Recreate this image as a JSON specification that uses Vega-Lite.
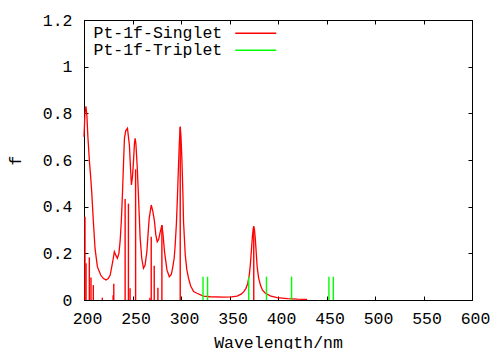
{
  "$schema": "https://vega.github.io/schema/vega-lite/v6.json",
  "width": 388,
  "height": 280,
  "autosize": {"type": "none"},
  "padding": {"left": 84, "top": 20, "right": 20, "bottom": 49},
  "background": "white",
  "config": {
    "view": {"stroke": "black", "strokeWidth": 1},
    "axis": {
      "grid": false,
      "domainColor": "black",
      "domainWidth": 1,
      "tickColor": "black",
      "tickWidth": 1,
      "tickSize": -4,
      "labelFont": "Liberation Mono",
      "labelFontSize": 16.5,
      "labelColor": "black",
      "titleFont": "Liberation Mono",
      "titleFontSize": 16.5,
      "titleFontWeight": "normal",
      "titleColor": "black",
      "labelFlush": false,
      "labelOverlap": false
    },
    "legend": {
      "orient": "none",
      "legendX": 9,
      "legendY": 5,
      "padding": 0,
      "symbolType": "M-2.93,0H2.93",
      "symbolSize": 196,
      "symbolStrokeWidth": 1.5,
      "labelFont": "Liberation Mono",
      "labelFontSize": 16.5,
      "labelColor": "black",
      "rowPadding": 0,
      "labelOffset": -170.5,
      "symbolOffset": 154.5
    }
  },
  "datasets": {
    "curve": [
      {"wl": 200, "f": 0.70, "series": "Pt-1f-Singlet"},
      {"wl": 201, "f": 0.80, "series": "Pt-1f-Singlet"},
      {"wl": 202, "f": 0.83, "series": "Pt-1f-Singlet"},
      {"wl": 203, "f": 0.79, "series": "Pt-1f-Singlet"},
      {"wl": 204, "f": 0.70, "series": "Pt-1f-Singlet"},
      {"wl": 205.5, "f": 0.60, "series": "Pt-1f-Singlet"},
      {"wl": 207, "f": 0.52, "series": "Pt-1f-Singlet"},
      {"wl": 208, "f": 0.46, "series": "Pt-1f-Singlet"},
      {"wl": 209.6, "f": 0.34, "series": "Pt-1f-Singlet"},
      {"wl": 211.4, "f": 0.22, "series": "Pt-1f-Singlet"},
      {"wl": 213.8, "f": 0.143, "series": "Pt-1f-Singlet"},
      {"wl": 217.2, "f": 0.107, "series": "Pt-1f-Singlet"},
      {"wl": 220, "f": 0.092, "series": "Pt-1f-Singlet"},
      {"wl": 222.7, "f": 0.086, "series": "Pt-1f-Singlet"},
      {"wl": 225, "f": 0.092, "series": "Pt-1f-Singlet"},
      {"wl": 227, "f": 0.107, "series": "Pt-1f-Singlet"},
      {"wl": 229.6, "f": 0.164, "series": "Pt-1f-Singlet"},
      {"wl": 231.3, "f": 0.207, "series": "Pt-1f-Singlet"},
      {"wl": 233, "f": 0.19, "series": "Pt-1f-Singlet"},
      {"wl": 234.4, "f": 0.179, "series": "Pt-1f-Singlet"},
      {"wl": 236, "f": 0.20, "series": "Pt-1f-Singlet"},
      {"wl": 237.2, "f": 0.25, "series": "Pt-1f-Singlet"},
      {"wl": 238.5, "f": 0.34, "series": "Pt-1f-Singlet"},
      {"wl": 239.6, "f": 0.45, "series": "Pt-1f-Singlet"},
      {"wl": 240.7, "f": 0.58, "series": "Pt-1f-Singlet"},
      {"wl": 241.7, "f": 0.693, "series": "Pt-1f-Singlet"},
      {"wl": 243, "f": 0.725, "series": "Pt-1f-Singlet"},
      {"wl": 244.8, "f": 0.736, "series": "Pt-1f-Singlet"},
      {"wl": 246.8, "f": 0.664, "series": "Pt-1f-Singlet"},
      {"wl": 248, "f": 0.56, "series": "Pt-1f-Singlet"},
      {"wl": 248.9, "f": 0.493, "series": "Pt-1f-Singlet"},
      {"wl": 250, "f": 0.53, "series": "Pt-1f-Singlet"},
      {"wl": 251, "f": 0.593, "series": "Pt-1f-Singlet"},
      {"wl": 252, "f": 0.67, "series": "Pt-1f-Singlet"},
      {"wl": 252.7, "f": 0.693, "series": "Pt-1f-Singlet"},
      {"wl": 253.5, "f": 0.67, "series": "Pt-1f-Singlet"},
      {"wl": 255, "f": 0.56, "series": "Pt-1f-Singlet"},
      {"wl": 256.1, "f": 0.45, "series": "Pt-1f-Singlet"},
      {"wl": 257.9, "f": 0.265, "series": "Pt-1f-Singlet"},
      {"wl": 259.5, "f": 0.18, "series": "Pt-1f-Singlet"},
      {"wl": 261.3, "f": 0.136, "series": "Pt-1f-Singlet"},
      {"wl": 263, "f": 0.15, "series": "Pt-1f-Singlet"},
      {"wl": 264.8, "f": 0.207, "series": "Pt-1f-Singlet"},
      {"wl": 266, "f": 0.28, "series": "Pt-1f-Singlet"},
      {"wl": 267.2, "f": 0.35, "series": "Pt-1f-Singlet"},
      {"wl": 269.3, "f": 0.407, "series": "Pt-1f-Singlet"},
      {"wl": 271, "f": 0.38, "series": "Pt-1f-Singlet"},
      {"wl": 272.7, "f": 0.336, "series": "Pt-1f-Singlet"},
      {"wl": 274, "f": 0.28, "series": "Pt-1f-Singlet"},
      {"wl": 275.5, "f": 0.25, "series": "Pt-1f-Singlet"},
      {"wl": 277, "f": 0.26, "series": "Pt-1f-Singlet"},
      {"wl": 278.5, "f": 0.29, "series": "Pt-1f-Singlet"},
      {"wl": 280.3, "f": 0.321, "series": "Pt-1f-Singlet"},
      {"wl": 281.5, "f": 0.28, "series": "Pt-1f-Singlet"},
      {"wl": 283, "f": 0.207, "series": "Pt-1f-Singlet"},
      {"wl": 285.5, "f": 0.129, "series": "Pt-1f-Singlet"},
      {"wl": 287.9, "f": 0.10, "series": "Pt-1f-Singlet"},
      {"wl": 290, "f": 0.11, "series": "Pt-1f-Singlet"},
      {"wl": 291.3, "f": 0.136, "series": "Pt-1f-Singlet"},
      {"wl": 293, "f": 0.18, "series": "Pt-1f-Singlet"},
      {"wl": 294, "f": 0.236, "series": "Pt-1f-Singlet"},
      {"wl": 295.3, "f": 0.33, "series": "Pt-1f-Singlet"},
      {"wl": 296.4, "f": 0.45, "series": "Pt-1f-Singlet"},
      {"wl": 297.3, "f": 0.56, "series": "Pt-1f-Singlet"},
      {"wl": 298.2, "f": 0.664, "series": "Pt-1f-Singlet"},
      {"wl": 299.2, "f": 0.743, "series": "Pt-1f-Singlet"},
      {"wl": 300, "f": 0.70, "series": "Pt-1f-Singlet"},
      {"wl": 301, "f": 0.593, "series": "Pt-1f-Singlet"},
      {"wl": 302, "f": 0.45, "series": "Pt-1f-Singlet"},
      {"wl": 302.6, "f": 0.336, "series": "Pt-1f-Singlet"},
      {"wl": 304.4, "f": 0.193, "series": "Pt-1f-Singlet"},
      {"wl": 306, "f": 0.13, "series": "Pt-1f-Singlet"},
      {"wl": 307.8, "f": 0.093, "series": "Pt-1f-Singlet"},
      {"wl": 310, "f": 0.06, "series": "Pt-1f-Singlet"},
      {"wl": 313, "f": 0.036, "series": "Pt-1f-Singlet"},
      {"wl": 316.5, "f": 0.029, "series": "Pt-1f-Singlet"},
      {"wl": 323, "f": 0.017, "series": "Pt-1f-Singlet"},
      {"wl": 330, "f": 0.014, "series": "Pt-1f-Singlet"},
      {"wl": 344, "f": 0.012, "series": "Pt-1f-Singlet"},
      {"wl": 352, "f": 0.013, "series": "Pt-1f-Singlet"},
      {"wl": 357.8, "f": 0.017, "series": "Pt-1f-Singlet"},
      {"wl": 362, "f": 0.025, "series": "Pt-1f-Singlet"},
      {"wl": 364.7, "f": 0.036, "series": "Pt-1f-Singlet"},
      {"wl": 367, "f": 0.05, "series": "Pt-1f-Singlet"},
      {"wl": 368.8, "f": 0.071, "series": "Pt-1f-Singlet"},
      {"wl": 370.5, "f": 0.11, "series": "Pt-1f-Singlet"},
      {"wl": 371.6, "f": 0.157, "series": "Pt-1f-Singlet"},
      {"wl": 372.7, "f": 0.22, "series": "Pt-1f-Singlet"},
      {"wl": 373.6, "f": 0.271, "series": "Pt-1f-Singlet"},
      {"wl": 374.4, "f": 0.305, "series": "Pt-1f-Singlet"},
      {"wl": 375, "f": 0.317, "series": "Pt-1f-Singlet"},
      {"wl": 375.8, "f": 0.30, "series": "Pt-1f-Singlet"},
      {"wl": 376.7, "f": 0.257, "series": "Pt-1f-Singlet"},
      {"wl": 377.6, "f": 0.20, "series": "Pt-1f-Singlet"},
      {"wl": 378.5, "f": 0.143, "series": "Pt-1f-Singlet"},
      {"wl": 380, "f": 0.095, "series": "Pt-1f-Singlet"},
      {"wl": 381.9, "f": 0.064, "series": "Pt-1f-Singlet"},
      {"wl": 384, "f": 0.042, "series": "Pt-1f-Singlet"},
      {"wl": 387, "f": 0.029, "series": "Pt-1f-Singlet"},
      {"wl": 392, "f": 0.018, "series": "Pt-1f-Singlet"},
      {"wl": 399, "f": 0.010, "series": "Pt-1f-Singlet"},
      {"wl": 410, "f": 0.006, "series": "Pt-1f-Singlet"},
      {"wl": 420, "f": 0.004, "series": "Pt-1f-Singlet"},
      {"wl": 430, "f": 0.003, "series": "Pt-1f-Singlet"}
    ],
    "sticks": [
      {"wl": 201.0, "f": 0.357, "series": "Pt-1f-Singlet"},
      {"wl": 202.1, "f": 0.157, "series": "Pt-1f-Singlet"},
      {"wl": 205.5, "f": 0.183, "series": "Pt-1f-Singlet"},
      {"wl": 207.2, "f": 0.096, "series": "Pt-1f-Singlet"},
      {"wl": 209.6, "f": 0.064, "series": "Pt-1f-Singlet"},
      {"wl": 218.9, "f": 0.01, "series": "Pt-1f-Singlet"},
      {"wl": 230.0, "f": 0.02, "series": "Pt-1f-Singlet"},
      {"wl": 230.7, "f": 0.07, "series": "Pt-1f-Singlet"},
      {"wl": 242.4, "f": 0.433, "series": "Pt-1f-Singlet"},
      {"wl": 245.8, "f": 0.413, "series": "Pt-1f-Singlet"},
      {"wl": 247.5, "f": 0.05, "series": "Pt-1f-Singlet"},
      {"wl": 253.2, "f": 0.56, "series": "Pt-1f-Singlet"},
      {"wl": 267.9, "f": 0.01, "series": "Pt-1f-Singlet"},
      {"wl": 269.3, "f": 0.271, "series": "Pt-1f-Singlet"},
      {"wl": 272.4, "f": 0.147, "series": "Pt-1f-Singlet"},
      {"wl": 276.2, "f": 0.053, "series": "Pt-1f-Singlet"},
      {"wl": 280.3, "f": 0.32, "series": "Pt-1f-Singlet"},
      {"wl": 299.2, "f": 0.74, "series": "Pt-1f-Singlet"},
      {"wl": 375.0, "f": 0.31, "series": "Pt-1f-Singlet"},
      {"wl": 322.7, "f": 0.1, "series": "Pt-1f-Triplet"},
      {"wl": 327.4, "f": 0.1, "series": "Pt-1f-Triplet"},
      {"wl": 369.8, "f": 0.1, "series": "Pt-1f-Triplet"},
      {"wl": 388.1, "f": 0.1, "series": "Pt-1f-Triplet"},
      {"wl": 414.0, "f": 0.1, "series": "Pt-1f-Triplet"},
      {"wl": 452.5, "f": 0.1, "series": "Pt-1f-Triplet"},
      {"wl": 457.0, "f": 0.1, "series": "Pt-1f-Triplet"}
    ]
  },
  "layer": [
    {
      "data": {"name": "curve"},
      "mark": {"type": "line", "strokeWidth": 1.3},
      "encoding": {
        "x": {
          "field": "wl",
          "type": "quantitative",
          "scale": {"domain": [200, 600], "nice": false, "zero": false},
          "axis": {
            "orient": "bottom",
            "title": "Wavelength/nm",
            "values": [200, 250, 300, 350, 400, 450, 500, 550, 600],
            "format": "d",
            "labelPadding": 14,
            "labelOffset": 3,
            "titlePadding": 8
          }
        },
        "y": {
          "field": "f",
          "type": "quantitative",
          "scale": {"domain": [0, 1.2], "nice": false},
          "axis": {
            "orient": "left",
            "title": "f",
            "values": [0, 0.2, 0.4, 0.6, 0.8, 1, 1.2],
            "format": "~g",
            "labelPadding": 16,
            "titlePadding": 19
          }
        },
        "color": {
          "field": "series",
          "type": "nominal",
          "scale": {"domain": ["Pt-1f-Singlet", "Pt-1f-Triplet"], "range": ["#ff0000", "#00ff00"]},
          "legend": {"title": null}
        }
      }
    },
    {
      "data": {"name": "sticks"},
      "mark": {"type": "rule", "strokeWidth": 1.4},
      "encoding": {
        "x": {
          "field": "wl",
          "type": "quantitative",
          "axis": {"orient": "top", "labels": false, "title": null, "values": [200, 250, 300, 350, 400, 450, 500, 550, 600]}
        },
        "y": {
          "field": "f",
          "type": "quantitative",
          "axis": {"orient": "right", "labels": false, "title": null, "values": [0, 0.2, 0.4, 0.6, 0.8, 1, 1.2]}
        },
        "y2": {"datum": 0},
        "color": {"field": "series", "type": "nominal"}
      }
    }
  ],
  "resolve": {"axis": {"x": "independent", "y": "independent"}}
}
